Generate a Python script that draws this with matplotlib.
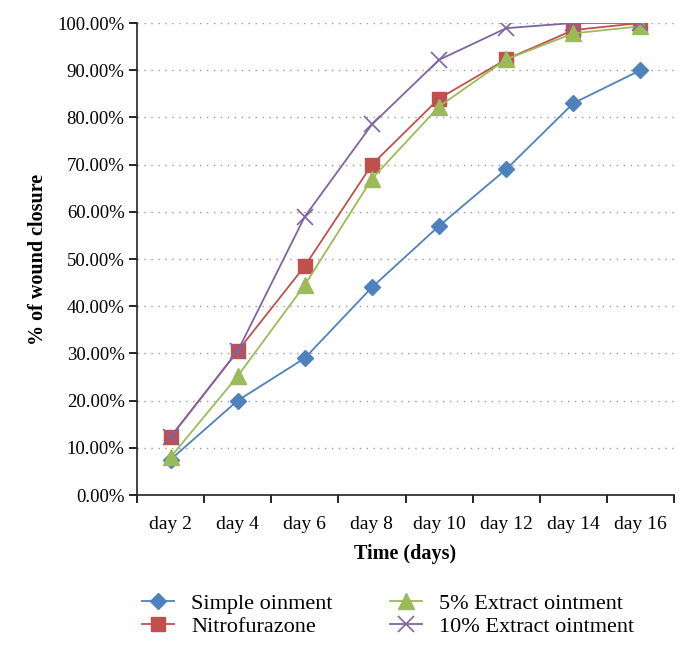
import numpy as np
import matplotlib.pyplot as plt
from matplotlib.ticker import FuncFormatter, FixedLocator

plt.rcParams['font.family'] = ['Liberation Serif', 'DejaVu Serif']

days = ['day 2', 'day 4', 'day 6', 'day 8', 'day 10', 'day 12', 'day 14', 'day 16']
simple = [7.5, 20.0, 29.0, 44.0, 57.0, 69.0, 83.0, 90.0]
nitro = [12.3, 30.5, 48.5, 70.0, 84.0, 92.3, 98.5, 100.0]
ext5 = [8.0, 25.2, 44.5, 67.0, 82.3, 92.3, 97.8, 99.3]
ext10 = [12.3, 30.5, 59.0, 78.5, 92.2, 98.9, 100.0, 100.0]

fig = plt.figure(figsize=(6.89, 6.46), dpi=100)
ax = fig.add_axes([137/689, 151/646, 537/689, 472/646])

x = np.arange(len(days))
ax.plot(x, simple, color='#4F81BD', marker='D', markersize=8, lw=1.3, label='Simple oinment', zorder=3)
ax.plot(x, nitro, color='#C0504D', marker='s', markersize=10, lw=1.3, label='Nitrofurazone', zorder=4)
ax.plot(x, ext5, color='#9BBB59', marker='^', markersize=11, lw=1.3, label='5% Extract ointment', zorder=5)
ax.plot(x, ext10, color='#8064A2', marker='x', markersize=11, mew=1.2, lw=1.3, label='10% Extract ointment', zorder=6)

ax.set_xlim(-0.5, len(days) - 0.5)
ax.set_ylim(0, 100)
ax.set_yticks(np.arange(0, 101, 10))
ax.yaxis.set_major_formatter(FuncFormatter(lambda v, p: f'{v:.2f}%'))
ax.set_xticks(x)
ax.set_xticklabels(days)
ax.xaxis.set_minor_locator(FixedLocator(np.arange(-0.5, len(days), 1.0)))
ax.tick_params(axis='x', which='major', length=0, pad=15, labelsize=14)
ax.tick_params(axis='x', which='minor', length=6, width=1.2, direction='out')
ax.tick_params(axis='y', length=6, width=1.2, direction='out', labelsize=13.5, pad=3)

ax.grid(axis='y', linestyle=(0, (1, 4)), color='#999999', lw=1.0)
ax.set_axisbelow(True)
for s in ['top', 'right']:
    ax.spines[s].set_visible(False)
for s in ['left', 'bottom']:
    ax.spines[s].set_linewidth(1.2)
    ax.spines[s].set_color('#222222')

ax.set_xlabel('Time (days)', fontsize=14.5, fontweight='bold', labelpad=8)
ax.set_ylabel('% of wound closure', fontsize=14.5, fontweight='bold', labelpad=7)

h, l = ax.get_legend_handles_labels()
fig.legend(h, l, ncol=2, loc='upper left',
           bbox_to_anchor=(122/689, 1 - 573/646), frameon=False, fontsize=16,
           handlelength=1.45, handletextpad=0.75, columnspacing=2.6, labelspacing=0.12, markerscale=1.0)

fig.savefig('out.png', dpi=100)
